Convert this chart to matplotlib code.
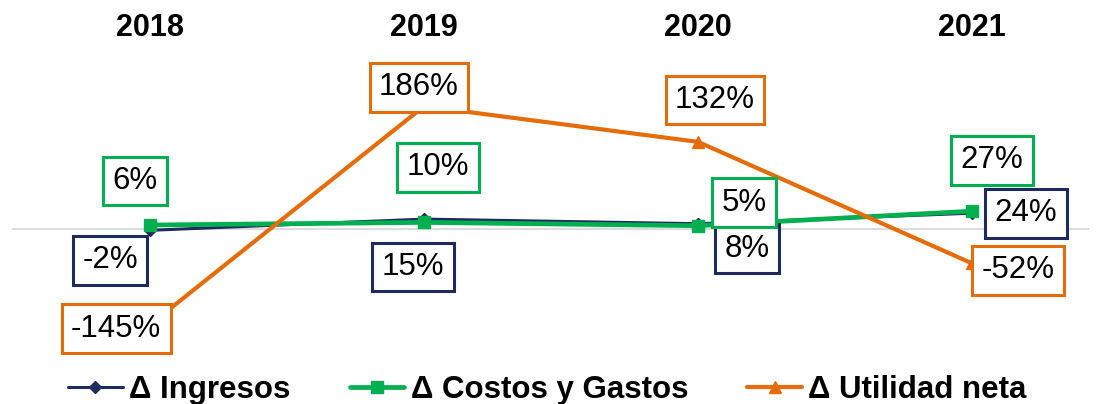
import matplotlib
matplotlib.use("Agg")
import matplotlib.pyplot as plt

plt.rcParams['font.family'] = ['Liberation Sans', 'DejaVu Sans']

years = ["2018", "2019", "2020", "2021"]
ingresos = [-2, 15, 8, 24]
costos = [6, 10, 5, 27]
utilidad = [-145, 186, 132, -52]

series_names = ["\u0394 Ingresos", "\u0394 Costos y Gastos", "\u0394 Utilidad neta"]
colors = ["#1f2a5e", "#00b050", "#e46c0a"]
markers = ["D", "s", "^"]
linewidths = [2.2, 3.4, 3.0]
markersizes = [6, 9, 9]

# label offsets (pixels, x right / y up) from each point
label_offsets = [
    [(-40, -30), (-11, -48), (49, -25), (54, 0)],
    [(-15, 44), (14, 55), (46, 23), (20, 51)],
    [(-34, -4), (-5, 19), (17, 42), (46, -7)],
]

W, H = 1099, 404
fig = plt.figure(figsize=(W / 100, H / 100), dpi=100)
ax = fig.add_axes([12 / W, 1 - 360 / H, 1078 / W, 310 / H])

x = list(range(len(years)))
ax.axhline(0, color="#d9d9d9", lw=1.3, zorder=1)

all_series = [ingresos, costos, utilidad]
handles = []
for i, vals in enumerate(all_series):
    line, = ax.plot(x, vals, color=colors[i], lw=linewidths[i], marker=markers[i],
                    markersize=markersizes[i], markerfacecolor=colors[i],
                    markeredgecolor=colors[i], zorder=2 + i, label=series_names[i],
                    solid_capstyle='round')
    handles.append(line)
    for j, v in enumerate(vals):
        dx, dy = label_offsets[i][j]
        ax.annotate(f"{v}%", (x[j], v), xytext=(dx * 0.72, dy * 0.72),
                    textcoords="offset points", ha="center", va="center",
                    fontsize=22.5, color="black", zorder=10,
                    bbox=dict(boxstyle="square,pad=0.3", fc="white",
                              ec=colors[i], lw=2.2))

# axis limits: category 0 at 150px, 3 at 972px
ppu = (972 - 150) / 3
ax.set_xlim(-(150 - 12) / ppu, 3 + (1090 - 972) / ppu)
scale = 0.66
ax.set_ylim(-(360 - 229) / scale, (229 - 50) / scale)

ax.xaxis.tick_top()
ax.set_xticks(x)
ax.set_xticklabels(years, fontsize=22, fontweight="bold")
ax.tick_params(axis="x", length=0, pad=5)
ax.set_yticks([])
for s in ax.spines.values():
    s.set_visible(False)

fig.legend(handles=handles, loc="center", bbox_to_anchor=(0.498, 1 - 390 / H),
           ncol=3, frameon=False, prop=dict(size=22.5, weight="bold"),
           handlelength=1.75, handletextpad=0.2, columnspacing=1.9,
           borderaxespad=0, borderpad=0)

fig.savefig("out.png", dpi=100)
